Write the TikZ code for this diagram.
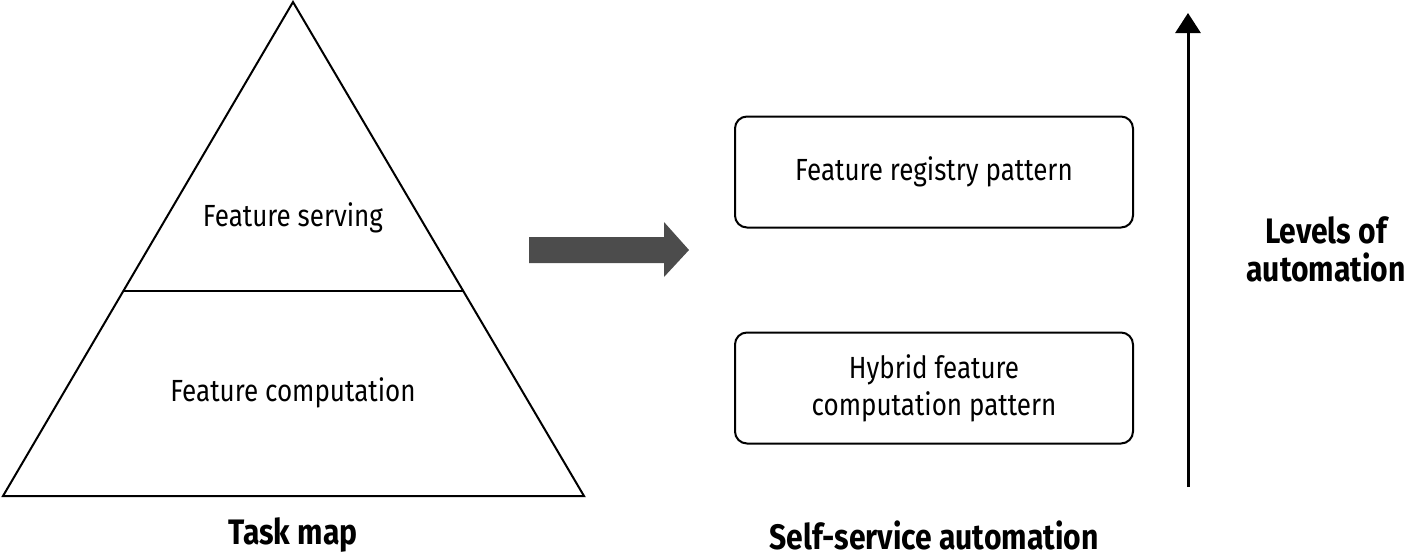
\documentclass[tikz,border=0pt]{standalone}
\usepackage{fontspec}
\setmainfont{Fira Sans}[FakeStretch=0.85]
\usetikzlibrary{arrows.meta}
\begin{document}
\begin{tikzpicture}[x=0.5pt,y=-0.5pt,
  lbl/.style={font=\fontsize{15.3pt}{18.5pt}\selectfont, align=center, inner sep=0pt},
  blbl/.style={font=\fontsize{17.7pt}{19pt}\selectfont\bfseries, align=center, inner sep=0pt},
  pbox/.style={draw, line width=1pt, rounded corners=6pt, minimum width=199pt, minimum height=55.5pt, inner sep=0pt},
  edge/.style={line width=1pt, line join=miter}]
\useasboundingbox (0,0) rectangle (1410,558);
% triangle
\coordinate (apex) at (293,2);
\coordinate (bl) at (3,496);
\coordinate (br) at (584,496);
\coordinate (ml) at (123,291);
\coordinate (mr) at (463,291);
\draw[edge] (apex) -- (br) -- (bl) -- cycle;
\draw[edge] (ml) -- (mr);
\node[lbl] (serv) at (293,218) {Feature serving};
\node[lbl] (comp) at (293,393) {Feature computation};
\node[blbl] (task) at (293,535) {Task map};
% block arrow
\fill[fill=black!70] (529,237) -- (664,237) -- (664,222) -- (689,250) -- (664,277) -- (664,263) -- (529,263) -- cycle;
% boxes
\node[pbox] (reg) at (934,172) {};
\node[lbl] (regt) at (reg.center) {Feature registry pattern};
\node[pbox] (hyb) at (934,388) {};
\node[lbl] (hybt) at (hyb.center) {Hybrid feature\\computation pattern};
\node[blbl] (ssa) at (934,535) {Self-service automation};
% vertical arrow
\coordinate (vb) at (1188,487);
\coordinate (vt) at (1188,13);
\draw[line width=1.5pt, -{Triangle[width=12.5pt,length=10pt]}] (vb) -- (vt);
\node[blbl] (lev) at (1326,249) {Levels of\\automation};
\end{tikzpicture}
\end{document}
